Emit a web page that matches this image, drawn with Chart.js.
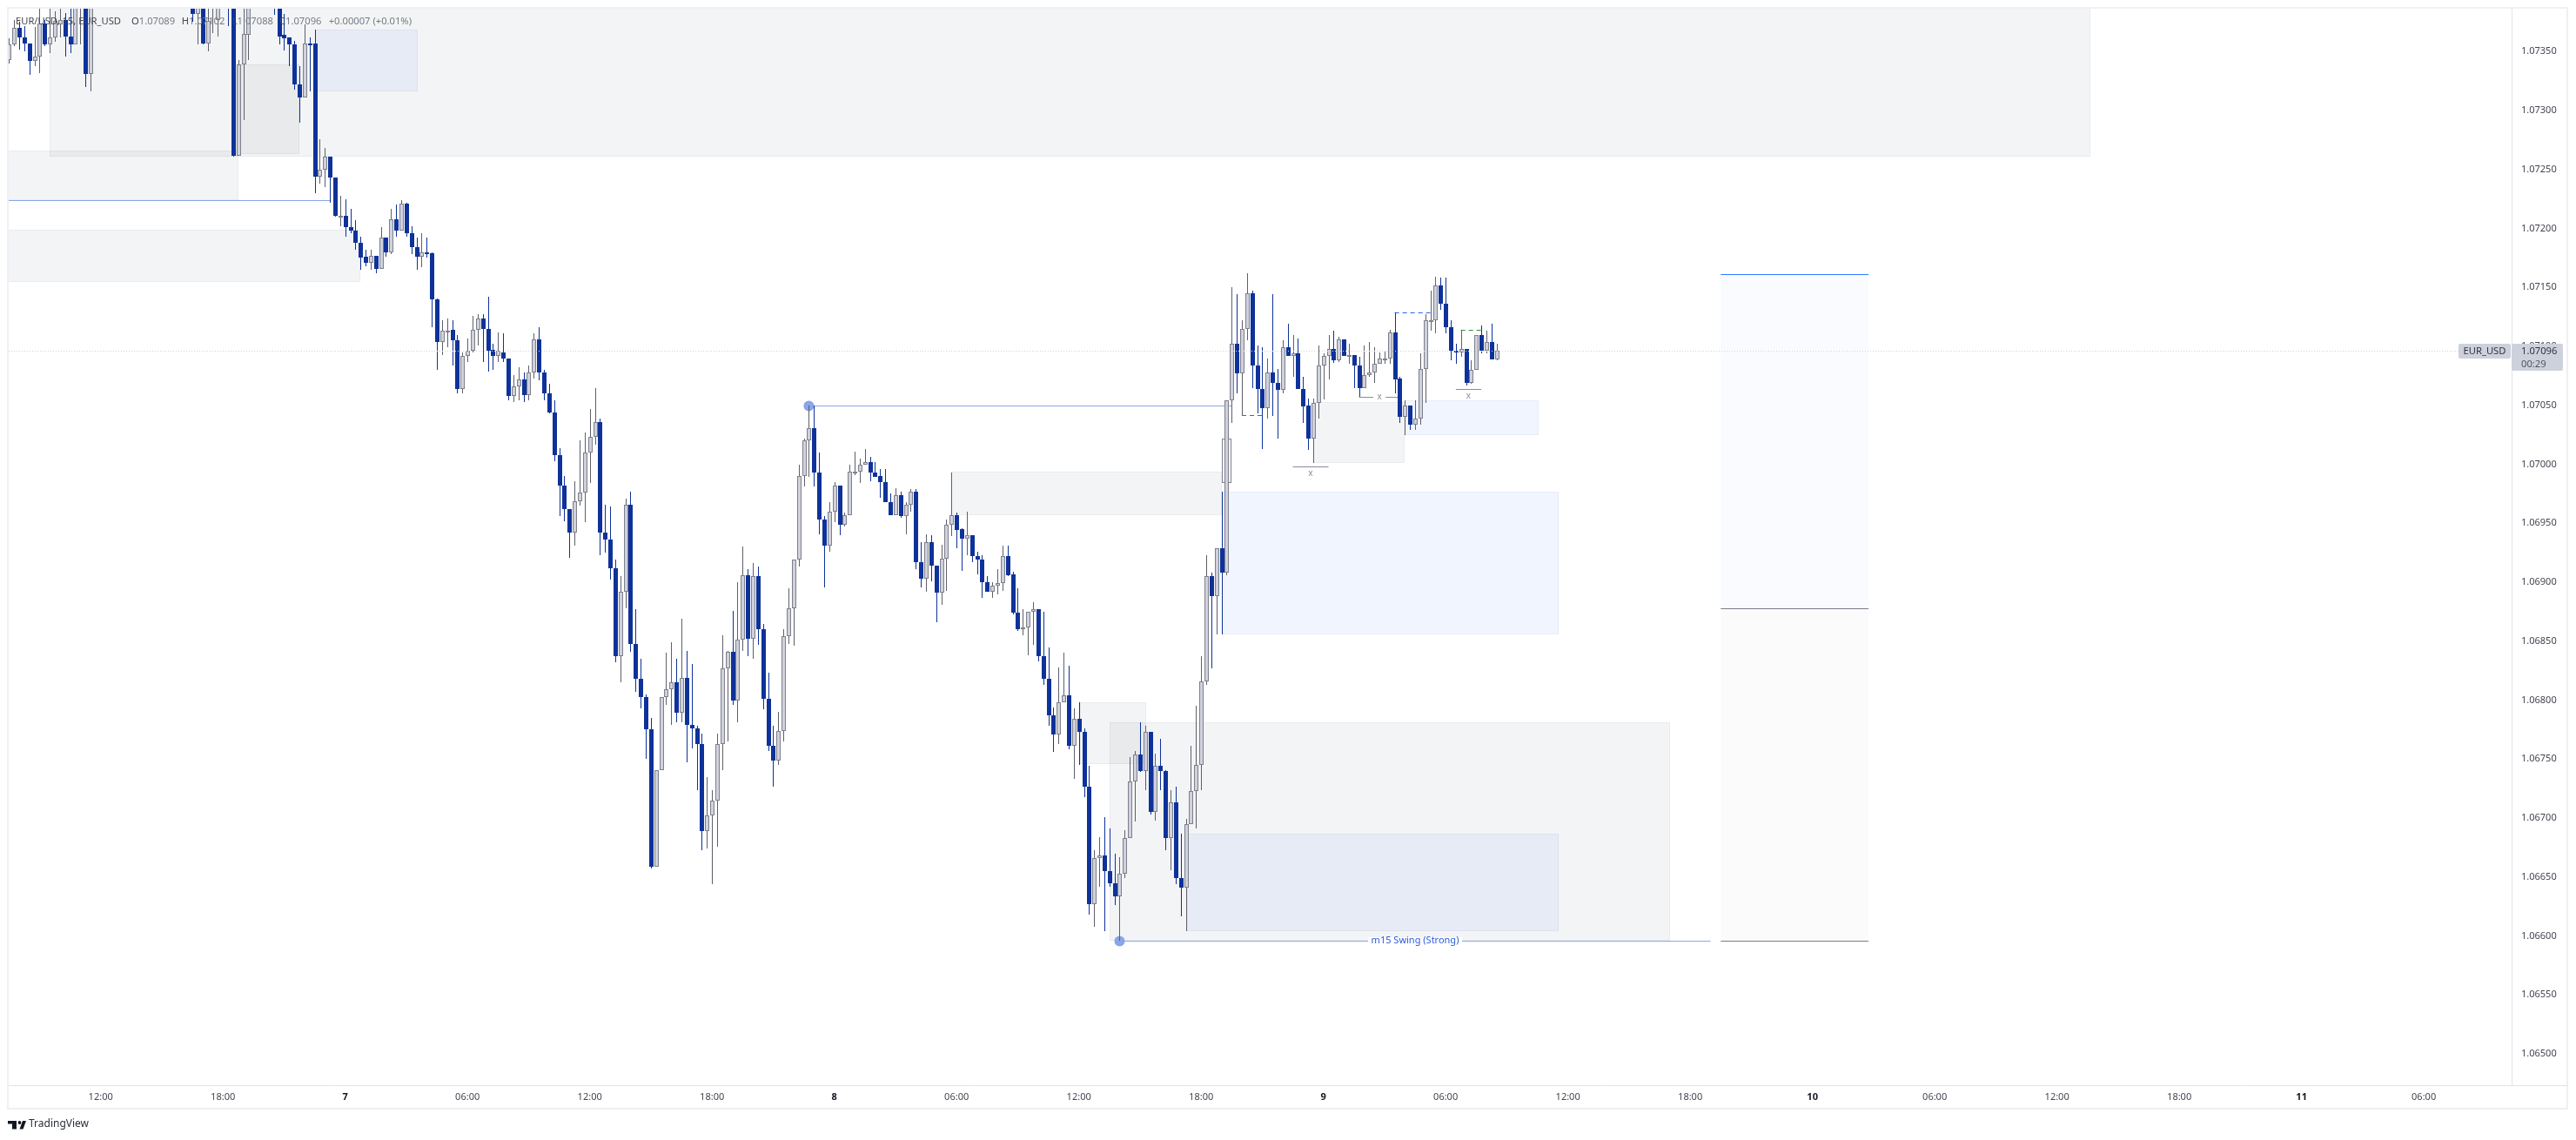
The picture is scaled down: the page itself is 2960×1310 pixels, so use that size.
<!DOCTYPE html>
<html>
<head>
<meta charset="utf-8">
<title>EUR/USD 15</title>
<script src="https://cdn.jsdelivr.net/npm/chart.js@4/dist/chart.umd.min.js"></script>
<style>
  html, body { margin: 0; padding: 0; background: #fff; }
  canvas { display: block; }
</style>
</head>
<body>
<canvas id="priceChart" width="2960" height="1310"></canvas>
<script>
// candles, one value per 15 minute bar; null = bar is above the visible range
const opens = [
  1.07343,1.07356,1.07370,1.07362,1.07357,1.07342,1.07346,1.07374,1.07356,1.07362,
  1.07373,1.07377,1.07363,1.07356,1.07395,1.07410,1.07331,null,null,null,
  null,null,null,null,null,null,null,null,null,null,
  null,null,null,null,null,null,1.07400,1.07382,1.07400,1.07357,
  1.07390,1.07377,null,1.07400,1.07395,1.07262,1.07339,1.07364,null,null,
  null,null,1.07400,1.07395,1.07364,1.07362,1.07356,1.07322,1.07311,1.07357,
  1.07357,1.07244,1.07250,1.07261,1.07243,1.07211,1.07211,1.07201,1.07198,1.07188,
  1.07176,1.07171,1.07177,1.07166,1.07192,1.07180,1.07208,1.07198,1.07221,1.07196,
  1.07184,1.07176,1.07180,1.07179,1.07140,1.07104,1.07113,1.07114,1.07105,1.07064,
  1.07092,1.07096,1.07114,1.07124,1.07115,1.07097,1.07092,1.07095,1.07090,1.07058,
  1.07066,1.07072,1.07059,1.07078,1.07106,1.07078,1.07060,1.07044,1.07008,1.06982,
  1.06962,1.06942,1.06969,1.06976,1.07010,1.07023,1.07036,1.06942,1.06936,1.06912,
  1.06837,1.06892,1.06966,1.06848,1.06818,1.06803,1.06775,1.06659,1.06741,1.06803,
  1.06809,1.06815,1.06789,1.06819,1.06779,1.06776,1.06763,1.06689,1.06702,1.06715,
  1.06763,1.06827,1.06841,1.06800,1.06851,1.06906,1.06852,1.06905,1.06860,1.06801,
  1.06761,1.06749,1.06774,1.06854,1.06878,1.06919,1.06990,1.07020,1.07031,1.06993,
  1.06953,1.06931,1.06960,1.06982,1.06949,1.06957,1.06994,1.06994,1.07000,1.07002,
  1.06993,1.06990,1.06985,1.06968,1.06957,1.06974,1.06956,1.06966,1.06977,1.06917,
  1.06903,1.06934,1.06914,1.06891,1.06920,1.06949,1.06957,1.06945,1.06937,1.06940,
  1.06922,1.06919,1.06900,1.06892,1.06897,1.06899,1.06922,1.06907,1.06874,1.06860,
  1.06862,1.06875,1.06877,1.06837,1.06818,1.06787,1.06771,1.06798,1.06804,1.06761,
  1.06784,1.06773,1.06727,1.06627,1.06666,1.06668,1.06655,1.06645,1.06634,1.06653,
  1.06683,1.06731,1.06754,1.06740,1.06773,1.06705,1.06744,1.06740,1.06683,1.06713,
  1.06649,1.06641,1.06695,1.06723,1.06745,1.06816,1.06905,1.06888,1.06929,1.06908,
  1.07054,1.07102,1.07077,1.07115,1.07145,1.07084,1.07064,1.07048,1.07078,1.07069,
  1.07063,1.07099,1.07092,1.07094,1.07064,1.07050,1.07022,1.07052,1.07084,1.07092,
  1.07098,1.07088,1.07106,1.07093,1.07093,1.07084,1.07065,1.07076,1.07078,1.07085,
  1.07090,1.07090,1.07112,1.07073,1.07040,1.07050,1.07034,1.07039,1.07081,1.07122,
  1.07122,1.07152,1.07136,1.07116,1.07096,1.07095,1.07098,1.07069,1.07080,1.07110,
  1.07096,1.07104,1.07089
];
const highs = [
  1.07361,1.07377,1.07375,1.07372,1.07357,1.07371,1.07390,1.07377,1.07390,1.07384,
  1.07388,1.07383,1.07390,1.07405,1.07415,1.07415,1.07405,null,null,null,
  null,null,null,null,null,null,null,null,null,null,
  null,null,null,null,null,null,1.07405,1.07400,1.07405,1.07395,
  1.07400,1.07400,null,1.07405,1.07400,1.07343,1.07390,1.07400,null,null,
  null,null,1.07405,1.07400,1.07382,1.07362,1.07359,1.07338,1.07373,1.07362,
  1.07369,1.07276,1.07268,1.07261,1.07243,1.07228,1.07225,1.07217,1.07207,1.07193,
  1.07182,1.07182,1.07177,1.07201,1.07192,1.07217,1.07220,1.07224,1.07222,1.07202,
  1.07192,1.07196,1.07192,1.07180,1.07141,1.07122,1.07124,1.07122,1.07110,1.07095,
  1.07107,1.07126,1.07127,1.07127,1.07142,1.07102,1.07112,1.07111,1.07090,1.07076,
  1.07082,1.07078,1.07084,1.07111,1.07116,1.07080,1.07068,1.07054,1.07014,1.06990,
  1.06962,1.06986,1.07020,1.07027,1.07047,1.07065,1.07039,1.06966,1.06964,1.06919,
  1.06905,1.06971,1.06977,1.06877,1.06835,1.06805,1.06785,1.06741,1.06803,1.06840,
  1.06849,1.06835,1.06869,1.06842,1.06831,1.06778,1.06772,1.06735,1.06724,1.06772,
  1.06855,1.06842,1.06876,1.06900,1.06930,1.06911,1.06916,1.06913,1.06865,1.06823,
  1.06778,1.06790,1.06860,1.06895,1.06919,1.07000,1.07022,1.07050,1.07050,1.07010,
  1.06956,1.06968,1.06985,1.06982,1.06959,1.07000,1.07011,1.07005,1.07013,1.07006,
  1.07002,1.06996,1.06996,1.06975,1.06980,1.06977,1.06968,1.06979,1.06979,1.06934,
  1.06941,1.06940,1.06914,1.06932,1.06953,1.06993,1.06959,1.06946,1.06960,1.06940,
  1.06926,1.06923,1.06905,1.06900,1.06911,1.06931,1.06931,1.06909,1.06895,1.06877,
  1.06875,1.06883,1.06877,1.06875,1.06845,1.06794,1.06828,1.06840,1.06829,1.06793,
  1.06798,1.06776,1.06744,1.06673,1.06684,1.06701,1.06691,1.06670,1.06667,1.06690,
  1.06752,1.06757,1.06781,1.06778,1.06773,1.06755,1.06767,1.06741,1.06724,1.06727,
  1.06687,1.06699,1.06761,1.06795,1.06837,1.06923,1.06908,1.06929,1.06977,1.07054,
  1.07150,1.07144,1.07122,1.07162,1.07147,1.07101,1.07099,1.07090,1.07144,1.07081,
  1.07105,1.07119,1.07110,1.07107,1.07074,1.07056,1.07056,1.07101,1.07094,1.07110,
  1.07113,1.07108,1.07106,1.07102,1.07093,1.07091,1.07101,1.07104,1.07099,1.07095,
  1.07096,1.07114,1.07129,1.07074,1.07054,1.07050,1.07054,1.07094,1.07127,1.07147,
  1.07159,1.07158,1.07158,1.07122,1.07102,1.07114,1.07098,1.07088,1.07110,1.07118,
  1.07113,1.07119,1.07102
];
const lows = [
  1.07340,1.07355,1.07352,1.07350,1.07330,1.07338,1.07332,1.07355,1.07349,1.07358,
  1.07362,1.07346,1.07349,1.07356,1.07356,1.07320,1.07316,null,null,null,
  null,null,null,null,null,null,null,null,null,null,
  null,null,null,null,null,null,1.07375,1.07356,1.07356,1.07350,
  1.07366,1.07363,null,1.07372,1.07261,1.07262,1.07292,1.07343,null,null,
  null,null,1.07381,1.07356,1.07351,1.07338,1.07318,1.07290,1.07311,1.07316,
  1.07230,1.07238,1.07235,1.07222,1.07210,1.07202,1.07193,1.07196,1.07182,1.07165,
  1.07168,1.07165,1.07162,1.07166,1.07176,1.07178,1.07193,1.07198,1.07193,1.07178,
  1.07165,1.07167,1.07175,1.07116,1.07080,1.07093,1.07099,1.07084,1.07060,1.07060,
  1.07087,1.07095,1.07101,1.07087,1.07079,1.07080,1.07087,1.07087,1.07054,1.07053,
  1.07054,1.07053,1.07054,1.07073,1.07071,1.07054,1.07043,1.07003,1.06956,1.06952,
  1.06921,1.06931,1.06965,1.06951,1.06984,1.07017,1.06923,1.06925,1.06902,1.06832,
  1.06815,1.06878,1.06841,1.06807,1.06793,1.06750,1.06657,1.06659,1.06741,1.06796,
  1.06779,1.06781,1.06781,1.06747,1.06759,1.06724,1.06673,1.06674,1.06644,1.06676,
  1.06741,1.06765,1.06796,1.06781,1.06842,1.06837,1.06835,1.06847,1.06792,1.06757,
  1.06727,1.06745,1.06765,1.06848,1.06846,1.06913,1.06981,1.06989,1.06981,1.06941,
  1.06896,1.06926,1.06951,1.06940,1.06947,1.06957,1.06991,1.06984,1.07000,1.06986,
  1.06989,1.06972,1.06968,1.06957,1.06957,1.06955,1.06941,1.06960,1.06911,1.06896,
  1.06892,1.06901,1.06866,1.06881,1.06893,1.06939,1.06929,1.06910,1.06923,1.06917,
  1.06907,1.06887,1.06892,1.06887,1.06890,1.06893,1.06905,1.06873,1.06859,1.06855,
  1.06838,1.06847,1.06833,1.06813,1.06778,1.06756,1.06763,1.06798,1.06758,1.06733,
  1.06745,1.06718,1.06618,1.06608,1.06642,1.06604,1.06642,1.06626,1.06596,1.06649,
  1.06683,1.06697,1.06739,1.06724,1.06703,1.06698,1.06724,1.06673,1.06656,1.06644,
  1.06617,1.06604,1.06695,1.06691,1.06724,1.06813,1.06827,1.06856,1.06856,1.06906,
  1.07035,1.07060,1.07042,1.07105,1.07065,1.07043,1.07013,1.07039,1.07041,1.07022,
  1.07060,1.07092,1.07074,1.07064,1.07035,1.07012,1.07001,1.07039,1.07055,1.07072,
  1.07086,1.07087,1.07092,1.07085,1.07065,1.07057,1.07065,1.07074,1.07069,1.07085,
  1.07085,1.07085,1.07060,1.07035,1.07025,1.07029,1.07029,1.07034,1.07052,1.07113,
  1.07111,1.07131,1.07111,1.07088,1.07085,1.07091,1.07067,1.07068,1.07080,1.07094,
  1.07094,1.07089,1.07088
];
const closes = [
  1.07356,1.07370,1.07362,1.07357,1.07342,1.07346,1.07374,1.07356,1.07362,1.07376,
  1.07377,1.07363,1.07356,1.07400,1.07410,1.07331,1.07400,null,null,null,
  null,null,null,null,null,null,null,null,null,null,
  null,null,null,null,null,null,1.07382,1.07395,1.07357,1.07376,
  1.07395,1.07395,null,1.07390,1.07262,1.07339,1.07365,1.07395,null,null,
  null,null,1.07392,1.07363,1.07361,1.07356,1.07322,1.07311,1.07357,1.07356,
  1.07244,1.07250,1.07261,1.07243,1.07211,1.07211,1.07201,1.07198,1.07188,1.07175,
  1.07171,1.07177,1.07166,1.07192,1.07180,1.07208,1.07198,1.07221,1.07196,1.07184,
  1.07176,1.07180,1.07178,1.07140,1.07104,1.07113,1.07113,1.07105,1.07064,1.07092,
  1.07096,1.07114,1.07124,1.07115,1.07096,1.07092,1.07096,1.07090,1.07058,1.07066,
  1.07072,1.07059,1.07078,1.07106,1.07078,1.07060,1.07044,1.07008,1.06982,1.06962,
  1.06942,1.06969,1.06976,1.07010,1.07023,1.07036,1.06942,1.06936,1.06912,1.06837,
  1.06892,1.06966,1.06848,1.06818,1.06803,1.06775,1.06659,1.06741,1.06803,1.06809,
  1.06815,1.06789,1.06819,1.06779,1.06776,1.06763,1.06689,1.06702,1.06715,1.06763,
  1.06827,1.06841,1.06800,1.06851,1.06906,1.06852,1.06905,1.06860,1.06801,1.06761,
  1.06749,1.06774,1.06854,1.06878,1.06919,1.06990,1.07020,1.07031,1.06993,1.06953,
  1.06931,1.06960,1.06982,1.06949,1.06957,1.06994,1.06994,1.07000,1.07002,1.06993,
  1.06989,1.06985,1.06968,1.06957,1.06974,1.06956,1.06966,1.06977,1.06917,1.06903,
  1.06934,1.06914,1.06891,1.06920,1.06949,1.06957,1.06944,1.06937,1.06940,1.06922,
  1.06919,1.06900,1.06892,1.06897,1.06899,1.06922,1.06906,1.06874,1.06860,1.06862,
  1.06875,1.06877,1.06837,1.06818,1.06787,1.06771,1.06798,1.06804,1.06761,1.06784,
  1.06773,1.06727,1.06627,1.06666,1.06668,1.06655,1.06645,1.06634,1.06653,1.06683,
  1.06731,1.06754,1.06740,1.06773,1.06705,1.06744,1.06740,1.06683,1.06713,1.06649,
  1.06641,1.06695,1.06723,1.06745,1.06816,1.06905,1.06888,1.06929,1.06908,1.07054,
  1.07102,1.07077,1.07115,1.07145,1.07084,1.07064,1.07048,1.07078,1.07069,1.07063,
  1.07099,1.07092,1.07094,1.07064,1.07049,1.07022,1.07052,1.07084,1.07092,1.07098,
  1.07088,1.07106,1.07092,1.07093,1.07084,1.07065,1.07076,1.07078,1.07085,1.07090,
  1.07090,1.07112,1.07072,1.07040,1.07050,1.07034,1.07039,1.07081,1.07122,1.07122,
  1.07152,1.07136,1.07116,1.07096,1.07095,1.07098,1.07069,1.07080,1.07110,1.07096,
  1.07104,1.07089,1.07096
];

// axes
const priceTicks = [1.065, 1.0655, 1.066, 1.0665, 1.067, 1.0675, 1.068, 1.0685, 1.069, 1.0695,
  1.07, 1.0705, 1.071, 1.0715, 1.072, 1.0725, 1.073, 1.0735];
const timeLabels = ['12:00', '18:00', '7', '06:00', '12:00', '18:00', '8', '06:00', '12:00', '18:00',
  '9', '06:00', '12:00', '18:00', '10', '06:00', '12:00', '18:00', '11', '06:00'];
const timeBars = [18, 42, 66, 90, 114, 138, 162, 186, 210, 234, 258, 282, 306, 330, 354, 378, 402, 426, 450, 474];

// zones, as bar numbers and prices
const grayStart = [8, -1, -1, 45, 185, 216, 210.3, 256];
const grayEnd = [408.5, 45, 69, 57, 238, 326.1, 223.2, 274];
const grayHigh = [1.07395, 1.07266, 1.07199, 1.07339, 1.06994, 1.06781, 1.06798, 1.07053];
const grayLow = [1.07261, 1.07224, 1.07155, 1.07263, 1.06957, 1.06596, 1.06746, 1.07001];
const blueStart = [60, 238, 231.2, 274];
const blueEnd = [80.2, 304.1, 304.1, 300.2];
const blueHigh = [1.07369, 1.06977, 1.06687, 1.07054];
const blueLow = [1.07316, 1.06856, 1.06604, 1.07025];
const boxBars = [238, 240];
const boxPrices = [1.07022, 1.06984];

// position tool on the right
const planBars = [336, 365];
const planLevels = [1.07161, 1.06878, 1.06596];

// swing lines and small levels
const swingHighBars = [157, 240];
const swingHighPrice = 1.0705;
const swingLowBars = [218, 334];
const swingLowPrice = 1.06596;
const oldLevelBars = [-1, 63];
const oldLevelPrice = 1.07224;
const blueDashBars = [[242, 246], [272, 279]];
const blueDashPrices = [1.07042, 1.07129];
const greenDashBars = [285, 289];
const greenDashPrice = 1.07114;
const sweepBars = [[252, 259], [265, 273], [284, 289]];
const sweepPrices = [1.06998, 1.07057, 1.07064];
const sweepMarkBars = [255.5, 269, 286.5];
const sweepMarkPrices = [1.06992, 1.07057, 1.07058];

const legendLabels = ['O', 'H', 'L', 'C'];
const lastBar = closes.length - 1;
const lastPrice = closes[lastBar];

const BLUE = '#0e3299';
const GRAY_FILL = '#cfd2dc';
const GRAY_EDGE = '#7e808c';
const GRAY_WICK = '#5f6069';
const SWING = '#8aa5e8';
const FONT = '"Noto Sans", sans-serif';

const shown = opens.map((o, i) => i).filter(i => opens[i] !== null);
const isUp = i => closes[i] >= opens[i];

function segment(bars, price, color, width, dash) {
  return {
    type: 'line',
    data: [{ x: bars[0], y: price }, { x: bars[1], y: price }],
    borderColor: color,
    borderWidth: width,
    borderDash: dash || [],
    pointRadius: 0,
    order: 5
  };
}

const swingHigh = segment(swingHighBars, swingHighPrice, SWING, 1);
swingHigh.pointRadius = [6, 0];
swingHigh.pointBackgroundColor = SWING;
swingHigh.pointBorderWidth = 0;
const swingLow = segment(swingLowBars, swingLowPrice, SWING, 1);
swingLow.pointRadius = [6, 0];
swingLow.pointBackgroundColor = SWING;
swingLow.pointBorderWidth = 0;

const overlays = {
  id: 'overlays',
  // keep candles and level lines on whole pixels so they stay sharp
  afterDatasetsUpdate(chart) {
    [0, 1].forEach(d => {
      chart.getDatasetMeta(d).data.forEach(el => {
        el.x = Math.round(el.x) + 0.5;
        let top = Math.round(Math.min(el.y, el.base));
        let bottom = Math.round(Math.max(el.y, el.base));
        if (bottom - top < 2) bottom = top + 2;
        el.y = top;
        el.base = bottom;
      });
    });
    chart.data.datasets.forEach((ds, d) => {
      if (ds.type !== 'line') return;
      chart.getDatasetMeta(d).data.forEach(el => {
        el.y = Math.round(el.y) + 0.5;
      });
    });
  },
  beforeDatasetsDraw(chart) {
    const { ctx, chartArea: area, scales: { x, y } } = chart;
    ctx.save();
    ctx.beginPath();
    ctx.rect(area.left, area.top, area.width, area.height);
    ctx.clip();

    const zone = (x0, x1, hi, lo, fill, edge) => {
      const l = Math.round(x.getPixelForValue(x0));
      const r = Math.round(x.getPixelForValue(x1));
      const t = Math.round(y.getPixelForValue(hi));
      const b = Math.round(y.getPixelForValue(lo));
      if (fill) {
        ctx.fillStyle = fill;
        ctx.fillRect(l, t, r - l, b - t);
      }
      ctx.strokeStyle = edge;
      ctx.lineWidth = 1;
      ctx.strokeRect(l + 0.5, t + 0.5, r - l - 1, b - t - 1);
    };

    // plan box
    const pl = x.getPixelForValue(planBars[0]);
    const pr = x.getPixelForValue(planBars[1]);
    const [p0, p1, p2] = planLevels.map(v => y.getPixelForValue(v));
    ctx.fillStyle = '#f9fbff';
    ctx.fillRect(pl, p0, pr - pl, p1 - p0);
    ctx.fillStyle = '#fbfbfb';
    ctx.fillRect(pl, p1, pr - pl, p2 - p1);

    grayStart.forEach((s, i) => zone(s, grayEnd[i], grayHigh[i], grayLow[i],
      'rgba(105,117,130,0.08)', 'rgba(105,117,130,0.07)'));
    blueStart.forEach((s, i) => zone(s, blueEnd[i], blueHigh[i], blueLow[i],
      'rgba(41,98,255,0.065)', 'rgba(105,117,130,0.07)'));
    zone(boxBars[0], boxBars[1], boxPrices[0], boxPrices[1], null, GRAY_EDGE);
    ctx.restore();
  },
  afterDatasetsDraw(chart) {
    const { ctx, chartArea: area, scales: { x, y } } = chart;
    // current price line
    const py = Math.round(y.getPixelForValue(lastPrice)) + 0.5;
    ctx.save();
    ctx.strokeStyle = '#d1d4dc';
    ctx.lineWidth = 1;
    ctx.setLineDash([1, 2]);
    ctx.beginPath();
    ctx.moveTo(area.left, py);
    ctx.lineTo(area.right, py);
    ctx.stroke();
    ctx.restore();

    ctx.save();
    ctx.textBaseline = 'middle';

    // swing label
    ctx.font = '11px ' + FONT;
    ctx.textAlign = 'center';
    const lx = x.getPixelForValue(276);
    const ly = y.getPixelForValue(swingLowPrice);
    ctx.fillStyle = '#fff';
    ctx.fillRect(lx - 54, ly - 4, 108, 9);
    ctx.fillStyle = '#2a5bd7';
    ctx.fillText('m15 Swing (Strong)', lx, ly);

    // sweep marks
    ctx.font = '10px ' + FONT;
    sweepMarkBars.forEach((b, i) => {
      const mx = x.getPixelForValue(b);
      const my = y.getPixelForValue(sweepMarkPrices[i]);
      if (i === 1) {
        ctx.fillStyle = '#fff';
        ctx.fillRect(mx - 7, my - 5, 14, 10);
      }
      ctx.fillStyle = '#8a8d98';
      ctx.fillText('x', mx, my);
    });

    // legend on top of the candles
    ctx.textAlign = 'left';
    ctx.font = '11.2px ' + FONT;
    ctx.fillStyle = '#434651';
    ctx.fillText('EUR/USD, 15, EUR_USD', 18, 25);
    const legendValues = [opens[lastBar], highs[lastBar], lows[lastBar], closes[lastBar]];
    const legendX = [151, 208.7, 266.7, 321];
    legendLabels.forEach((l, i) => {
      ctx.fillStyle = '#434651';
      ctx.fillText(l, legendX[i], 25);
      const w = ctx.measureText(l).width;
      ctx.fillStyle = '#787b86';
      ctx.fillText(legendValues[i].toFixed(5), legendX[i] + w, 25);
    });
    const change = lastPrice - opens[lastBar];
    const pct = change / opens[lastBar] * 100;
    ctx.fillText('+' + change.toFixed(5) + ' (+' + pct.toFixed(2) + '%)', 377.7, 25);
    ctx.restore();
  },
  afterDraw(chart) {
    const { ctx, chartArea: area, scales: { y } } = chart;
    ctx.save();
    // frame and axis rules
    ctx.strokeStyle = '#eff0f4';
    ctx.lineWidth = 2;
    ctx.strokeRect(9, 9, 2941, 1265);
    ctx.strokeStyle = '#e0e3eb';
    ctx.lineWidth = 1;
    ctx.beginPath();
    ctx.moveTo(area.right - 0.5, area.top);
    ctx.lineTo(area.right - 0.5, area.bottom);
    ctx.moveTo(area.left, area.bottom + 0.5);
    ctx.lineTo(2950, area.bottom + 0.5);
    ctx.stroke();

    // last price tags
    const py = y.getPixelForValue(lastPrice);
    ctx.fillStyle = '#cdd1db';
    ctx.beginPath();
    ctx.roundRect(2825, py - 8.5, 60, 17, 2);
    ctx.fill();
    ctx.beginPath();
    ctx.roundRect(2886, py - 8.5, 59, 31, 2);
    ctx.fill();
    ctx.fillStyle = '#303340';
    ctx.font = '11.2px ' + FONT;
    ctx.textBaseline = 'middle';
    ctx.textAlign = 'center';
    ctx.fillText('EUR_USD', 2855, py);
    ctx.textAlign = 'left';
    ctx.fillText(lastPrice.toFixed(5), 2897, py);
    ctx.fillStyle = '#50535e';
    ctx.fillText('00:29', 2897, py + 15);

    // TradingView mark
    ctx.fillStyle = '#131722';
    ctx.fillRect(9, 1288, 10, 3.5);
    ctx.fillRect(14, 1288, 5, 9.5);
    ctx.beginPath();
    ctx.arc(22.5, 1290, 1.9, 0, Math.PI * 2);
    ctx.fill();
    ctx.beginPath();
    ctx.moveTo(26, 1288);
    ctx.lineTo(30, 1288);
    ctx.lineTo(26.5, 1297.5);
    ctx.lineTo(22.5, 1297.5);
    ctx.closePath();
    ctx.fill();
    ctx.fillStyle = '#2a2e39';
    ctx.font = '12px ' + FONT;
    ctx.fillText('TradingView', 33, 1292);
    ctx.restore();
  }
};

const ctx = document.getElementById('priceChart').getContext('2d');
const priceChart = new Chart(ctx, {
  type: 'bar',
  data: {
    datasets: [
      {
        data: shown.map(i => ({ x: i, y: [opens[i], closes[i]] })),
        barThickness: 5,
        grouped: false,
        backgroundColor: shown.map(i => isUp(i) ? GRAY_FILL : BLUE),
        borderColor: shown.map(i => isUp(i) ? GRAY_EDGE : BLUE),
        borderWidth: 1,
        borderSkipped: false,
        inflateAmount: 0,
        order: 1
      },
      {
        data: shown.map(i => ({ x: i, y: [lows[i], highs[i]] })),
        barThickness: 1,
        grouped: false,
        backgroundColor: shown.map(i => isUp(i) ? GRAY_WICK : BLUE),
        borderWidth: 0,
        inflateAmount: 0,
        order: 2
      },
      swingHigh,
      swingLow,
      segment(oldLevelBars, oldLevelPrice, SWING, 1),
      segment(blueDashBars[0], blueDashPrices[0], '#2962ff', 1, [5, 4]),
      segment(blueDashBars[1], blueDashPrices[1], '#2962ff', 1, [5, 4]),
      segment(greenDashBars, greenDashPrice, '#388e3c', 1, [5, 4]),
      segment(sweepBars[0], sweepPrices[0], '#8a8d98', 1),
      segment(sweepBars[1], sweepPrices[1], '#8a8d98', 1),
      segment(sweepBars[2], sweepPrices[2], '#8a8d98', 1),
      segment(planBars, planLevels[0], '#2e7bff', 1),
      segment(planBars, planLevels[1], '#787b86', 1),
      segment(planBars, planLevels[2], '#787b86', 1)
    ]
  },
  options: {
    responsive: false,
    devicePixelRatio: 1,
    animation: false,
    events: [],
    layout: { padding: { left: 10, top: 10, right: 10, bottom: 36 } },
    plugins: { legend: { display: false }, tooltip: { enabled: false } },
    scales: {
      x: {
        type: 'linear',
        offset: false,
        min: -0.05,
        max: 491.4,
        grid: { display: false, drawTicks: false, tickLength: 0 },
        border: { display: false },
        afterBuildTicks: scale => {
          scale.ticks = timeBars.map(v => ({ value: v }));
        },
        afterFit: scale => {
          scale.height = 27;
          scale.paddingLeft = 0;
          scale.paddingRight = 0;
        },
        ticks: {
          autoSkip: false,
          maxRotation: 0,
          padding: 7,
          color: ctx => /:/.test(timeLabels[ctx.index]) ? '#434651' : '#131722',
          font: ctx => ({
            family: FONT,
            size: 11,
            weight: /:/.test(timeLabels[ctx.index]) ? 'normal' : 'bold'
          }),
          callback: (v, i) => timeLabels[i]
        }
      },
      y: {
        position: 'right',
        min: 1.064735,
        max: 1.073864,
        grid: { display: false, drawTicks: false, tickLength: 0 },
        border: { display: false },
        afterBuildTicks: scale => {
          scale.ticks = priceTicks.map(v => ({ value: v }));
        },
        afterFit: scale => {
          scale.width = 63;
          scale.paddingTop = 0;
          scale.paddingBottom = 0;
        },
        ticks: {
          padding: 10,
          color: '#434651',
          font: { family: FONT, size: 11 },
          callback: v => v.toFixed(5)
        }
      }
    }
  },
  plugins: [overlays]
});
</script>
</body>
</html>
